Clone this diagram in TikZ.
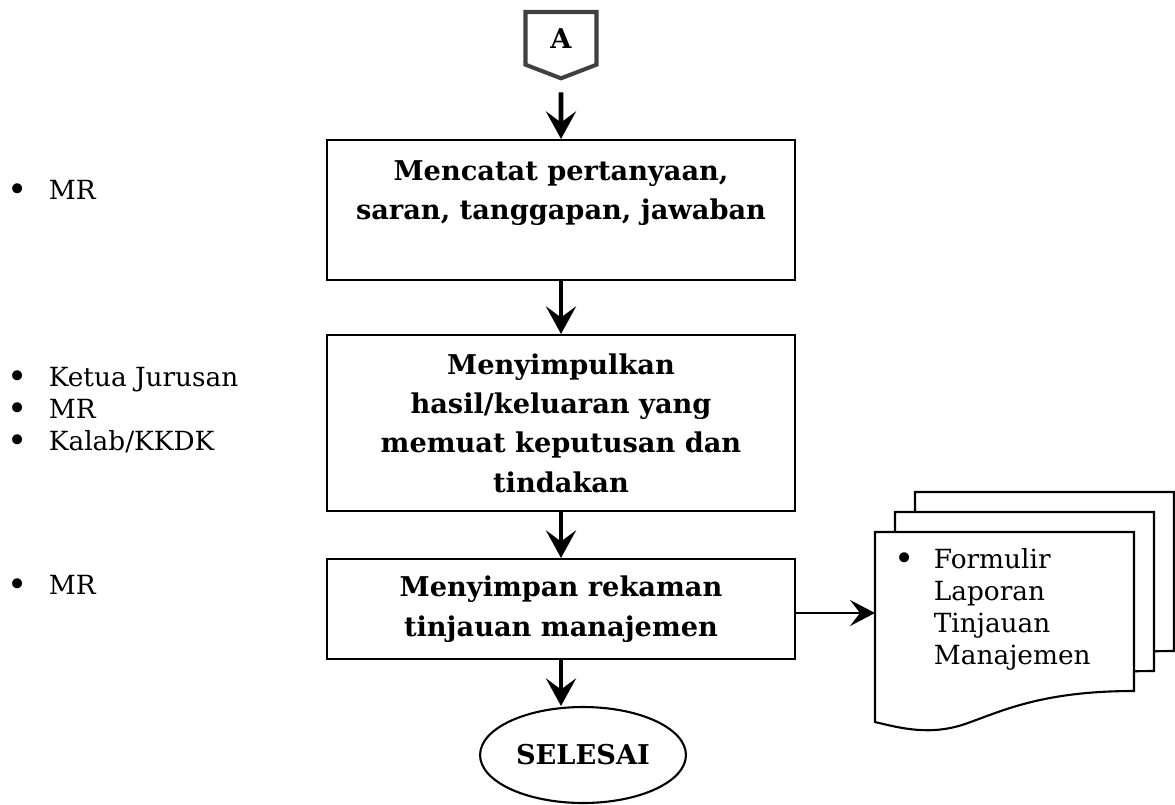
\documentclass[tikz,border=0pt]{standalone}
\usepackage{fontspec}
\setmainfont{DejaVu Serif}
\usetikzlibrary{arrows.meta,shapes.geometric,shapes.symbols,positioning}
\tikzset{
every picture/.style={
line width=1pt
}}
\newcommand{\bigdot}{\raisebox{-0.08em}{\scalebox{1.3}{\textbullet}}}

\begin{document}
\begin{tikzpicture}[x=0.02cm, y=-0.02cm,
process/.style = {rectangle, draw=black, line width=1.2pt, minimum width=9.36cm, align=center, font=\fontsize{15.5}{22.4}\selectfont\bfseries},
flow/.style = {-{Stealth[length=0.55cm, width=0.6cm, inset=0.22cm]}, line width=2.8pt},
thinflow/.style = {-{Stealth[length=0.5cm, width=0.52cm, inset=0.2cm]}, line width=0.9pt},
role/.style = {anchor=west, inner sep=0pt, align=left, font=\fontsize{15}{18.1}\selectfont}]
\useasboundingbox (0,0) rectangle (1175,804);

% off-page connector
\node[signal, signal to=south, signal pointer angle=138, draw=black!75, line width=2.3pt,
minimum width=1.42cm, minimum height=1.18cm, anchor=north,
font=\fontsize{15.5}{18}\selectfont\bfseries] (conA) at (561,10) {A};

\node[process, minimum height=2.8cm] (record) at (561,210) {Mencatat pertanyaan,\\ saran, tanggapan, jawaban\\ \mbox{}};
\node[process, minimum height=3.52cm] (conclude) at (561,423) {Menyimpulkan\\ hasil/keluaran yang\\ memuat keputusan dan\\ tindakan};
\node[process, minimum height=2cm] (store) at (561,609) {Menyimpan rekaman\\ tinjauan manajemen};
\node[ellipse, draw=black, line width=1.2pt, minimum width=4cm, minimum height=1.92cm,
font=\fontsize{15.5}{18}\selectfont\bfseries] (finish) at (583,755) {SELESAI};

\draw[flow, shorten <=0.24cm] (conA) -- (record);
\draw[flow] (record) -- (conclude);
\draw[flow] (conclude) -- (store);
\draw[flow] (store.south) -- (store.south |- finish.north);

% document stack
\foreach \s in {40,20,0}
\draw[line width=1.2pt, fill=white, shift={(\s,-\s)}] (875,532) -- (1134,532) -- (1134,691)
.. controls (1040,691) and (1000,712) .. (965,724)
.. controls (930,736) and (900,728) .. (875,722) -- cycle;
\coordinate (docin) at (875,613);
\draw[thinflow] (store.east |- docin) -- (docin);
\node[role] (form) at (894,610) {\begin{tabular}{@{}p{0.78cm}@{}l@{}}
\bigdot & Formulir\\ & Laporan\\ & Tinjauan\\ & Manajemen\end{tabular}};

% roles
\node[role] (role1) at (7,193) {\begin{tabular}{@{}p{0.82cm}@{}l@{}}
\bigdot & MR\end{tabular}};
\node[role] (role2) at (7,412) {\begin{tabular}{@{}p{0.82cm}@{}l@{}}
\bigdot & Ketua Jurusan\\ \bigdot & MR\\ \bigdot & Kalab/KKDK\end{tabular}};
\node[role] (role3) at (7,588) {\begin{tabular}{@{}p{0.82cm}@{}l@{}}
\bigdot & MR\end{tabular}};
\end{tikzpicture}
\end{document}
